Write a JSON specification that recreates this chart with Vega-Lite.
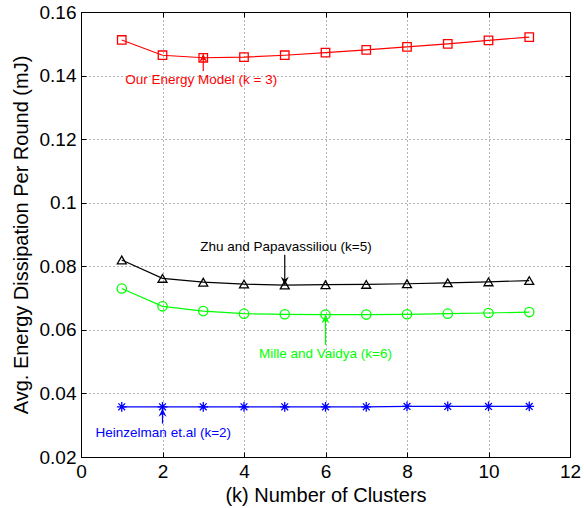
{
  "$schema": "https://vega.github.io/schema/vega-lite/v6.json",
  "width": 489,
  "height": 445,
  "autosize": {"type": "none"},
  "padding": {"left": 81, "top": 12, "right": 14, "bottom": 51},
  "background": "white",
  "config": {
    "view": {"stroke": "black", "strokeWidth": 1},
    "font": "Liberation Sans",
    "axis": {
      "domainColor": "black",
      "tickColor": "black",
      "tickSize": -5,
      "labelPadding": 10,
      "labelFontSize": 19,
      "labelColor": "black",
      "labelFont": "Liberation Sans",
      "labelFlush": false,
      "labelOverlap": false,
      "titleFont": "Liberation Sans",
      "titleFontSize": 20,
      "titleFontWeight": "normal",
      "titleColor": "black",
      "gridColor": "#666666",
      "gridDash": [1, 3],
      "gridOpacity": 1
    }
  },
  "datasets": {
    "series": [
      {"k": 1, "energy": 0.1512, "series": "Our Energy Model"},
      {"k": 2, "energy": 0.1464, "series": "Our Energy Model"},
      {"k": 3, "energy": 0.1456, "series": "Our Energy Model"},
      {"k": 4, "energy": 0.1458, "series": "Our Energy Model"},
      {"k": 5, "energy": 0.1464, "series": "Our Energy Model"},
      {"k": 6, "energy": 0.1472, "series": "Our Energy Model"},
      {"k": 7, "energy": 0.1481, "series": "Our Energy Model"},
      {"k": 8, "energy": 0.149, "series": "Our Energy Model"},
      {"k": 9, "energy": 0.15, "series": "Our Energy Model"},
      {"k": 10, "energy": 0.1511, "series": "Our Energy Model"},
      {"k": 11, "energy": 0.1521, "series": "Our Energy Model"},
      {"k": 1, "energy": 0.082, "series": "Zhu and Papavassiliou"},
      {"k": 2, "energy": 0.0762, "series": "Zhu and Papavassiliou"},
      {"k": 3, "energy": 0.075, "series": "Zhu and Papavassiliou"},
      {"k": 4, "energy": 0.0744, "series": "Zhu and Papavassiliou"},
      {"k": 5, "energy": 0.0741, "series": "Zhu and Papavassiliou"},
      {"k": 6, "energy": 0.0742, "series": "Zhu and Papavassiliou"},
      {"k": 7, "energy": 0.0743, "series": "Zhu and Papavassiliou"},
      {"k": 8, "energy": 0.0745, "series": "Zhu and Papavassiliou"},
      {"k": 9, "energy": 0.0748, "series": "Zhu and Papavassiliou"},
      {"k": 10, "energy": 0.0751, "series": "Zhu and Papavassiliou"},
      {"k": 11, "energy": 0.0755, "series": "Zhu and Papavassiliou"},
      {"k": 1, "energy": 0.073, "series": "Mille and Vaidya"},
      {"k": 2, "energy": 0.0674, "series": "Mille and Vaidya"},
      {"k": 3, "energy": 0.0659, "series": "Mille and Vaidya"},
      {"k": 4, "energy": 0.0651, "series": "Mille and Vaidya"},
      {"k": 5, "energy": 0.0649, "series": "Mille and Vaidya"},
      {"k": 6, "energy": 0.0648, "series": "Mille and Vaidya"},
      {"k": 7, "energy": 0.0648, "series": "Mille and Vaidya"},
      {"k": 8, "energy": 0.0649, "series": "Mille and Vaidya"},
      {"k": 9, "energy": 0.0651, "series": "Mille and Vaidya"},
      {"k": 10, "energy": 0.0653, "series": "Mille and Vaidya"},
      {"k": 11, "energy": 0.0656, "series": "Mille and Vaidya"},
      {"k": 1, "energy": 0.0358, "series": "Heinzelman et.al"},
      {"k": 2, "energy": 0.0358, "series": "Heinzelman et.al"},
      {"k": 3, "energy": 0.0358, "series": "Heinzelman et.al"},
      {"k": 4, "energy": 0.0358, "series": "Heinzelman et.al"},
      {"k": 5, "energy": 0.0358, "series": "Heinzelman et.al"},
      {"k": 6, "energy": 0.0358, "series": "Heinzelman et.al"},
      {"k": 7, "energy": 0.0358, "series": "Heinzelman et.al"},
      {"k": 8, "energy": 0.0359, "series": "Heinzelman et.al"},
      {"k": 9, "energy": 0.0359, "series": "Heinzelman et.al"},
      {"k": 10, "energy": 0.0359, "series": "Heinzelman et.al"},
      {"k": 11, "energy": 0.0359, "series": "Heinzelman et.al"}
    ],
    "notes": [
      {"label": "Our Energy Model (k = 3)", "series": "Our Energy Model", "tx": 2.95, "ty": 0.1386, "ax": 3, "tail": 0.1414, "tip": 0.1468, "dir": "up"},
      {"label": "Zhu and Papavassiliou (k=5)", "series": "Zhu and Papavassiliou", "tx": 5.03, "ty": 0.0862, "ax": 5, "tail": 0.0836, "tip": 0.0742, "dir": "down"},
      {"label": "Mille and Vaidya (k=6)", "series": "Mille and Vaidya", "tx": 6.0, "ty": 0.0524, "ax": 6, "tail": 0.0553, "tip": 0.0646, "dir": "up"},
      {"label": "Heinzelman et.al (k=2)", "series": "Heinzelman et.al", "tx": 2.02, "ty": 0.0276, "ax": 2, "tail": 0.0305, "tip": 0.0352, "dir": "up"}
    ]
  },
  "layer": [
    {
      "layer": [
        {
          "data": {"name": "series"},
          "mark": {"type": "line", "strokeWidth": 1.2},
          "encoding": {
            "x": {"field": "k", "type": "quantitative", "scale": {"domain": [0, 12], "nice": false, "zero": false},
              "axis": {"values": [0, 2, 4, 6, 8, 10, 12], "grid": true, "title": "(k) Number of Clusters", "titlePadding": 4}},
            "y": {"field": "energy", "type": "quantitative", "scale": {"domain": [0.02, 0.16], "nice": false, "zero": false},
              "axis": {"values": [0.02, 0.04, 0.06, 0.08, 0.1, 0.12, 0.14, 0.16], "format": ".2~f", "grid": true, "title": "Avg. Energy Dissipation Per Round  (mJ)", "titlePadding": 8}},
            "color": {"field": "series", "type": "nominal", "legend": null,
              "scale": {"domain": ["Our Energy Model", "Zhu and Papavassiliou", "Mille and Vaidya", "Heinzelman et.al"], "range": ["#ff0000", "#000000", "#00ff00", "#0000ff"]}},
            "detail": {"field": "series"}
          }
        },
        {
          "data": {"name": "series"},
          "mark": {"type": "point", "filled": false, "strokeWidth": 1.3, "opacity": 1},
          "encoding": {
            "x": {"field": "k", "type": "quantitative"},
            "y": {"field": "energy", "type": "quantitative"},
            "color": {"field": "series", "type": "nominal", "legend": null},
            "shape": {"field": "series", "type": "nominal", "legend": null,
              "scale": {"domain": ["Our Energy Model", "Zhu and Papavassiliou", "Mille and Vaidya", "Heinzelman et.al"],
                "range": ["square", "triangle-up", "circle", "M-1,0L1,0M0,-1L0,1M-0.7,-0.7L0.7,0.7M-0.7,0.7L0.7,-0.7"]}},
            "size": {"field": "series", "type": "nominal", "legend": null,
              "scale": {"domain": ["Our Energy Model", "Zhu and Papavassiliou", "Mille and Vaidya", "Heinzelman et.al"], "range": [72, 95, 72, 72]}}
          }
        },
        {
          "data": {"name": "notes"},
          "mark": {"type": "rule", "strokeWidth": 1.2},
          "encoding": {
            "x": {"field": "ax", "type": "quantitative"},
            "y": {"field": "tail", "type": "quantitative"},
            "y2": {"field": "tip"},
            "color": {"field": "series", "type": "nominal", "legend": null}
          }
        },
        {
          "data": {"name": "notes"},
          "transform": [{"filter": "datum.dir === 'up'"}],
          "mark": {"type": "point", "filled": true, "opacity": 1, "size": 256, "shape": "M0,0L0.5,1L0,0.65L-0.5,1Z"},
          "encoding": {
            "x": {"field": "ax", "type": "quantitative"},
            "y": {"field": "tip", "type": "quantitative"},
            "color": {"field": "series", "type": "nominal", "legend": null}
          }
        },
        {
          "data": {"name": "notes"},
          "transform": [{"filter": "datum.dir === 'down'"}],
          "mark": {"type": "point", "filled": true, "opacity": 1, "size": 256, "shape": "M0,0L0.5,-1L0,-0.65L-0.5,-1Z"},
          "encoding": {
            "x": {"field": "ax", "type": "quantitative"},
            "y": {"field": "tip", "type": "quantitative"},
            "color": {"field": "series", "type": "nominal", "legend": null}
          }
        },
        {
          "data": {"name": "notes"},
          "mark": {"type": "text", "fontSize": 13.5, "font": "Liberation Sans", "align": "center", "baseline": "middle"},
          "encoding": {
            "x": {"field": "tx", "type": "quantitative"},
            "y": {"field": "ty", "type": "quantitative"},
            "text": {"field": "label"},
            "color": {"field": "series", "type": "nominal", "legend": null}
          }
        }
      ]
    },
    {
      "data": {"name": "series"},
      "mark": {"type": "point", "opacity": 0},
      "encoding": {
        "x": {"field": "k", "type": "quantitative",
          "axis": {"orient": "top", "values": [0, 2, 4, 6, 8, 10, 12], "labels": false, "title": null, "grid": false, "domain": true}},
        "y": {"field": "energy", "type": "quantitative",
          "axis": {"orient": "right", "values": [0.02, 0.04, 0.06, 0.08, 0.1, 0.12, 0.14, 0.16], "labels": false, "title": null, "grid": false, "domain": true}}
      }
    }
  ],
  "resolve": {"axis": {"x": "independent", "y": "independent"}}
}
